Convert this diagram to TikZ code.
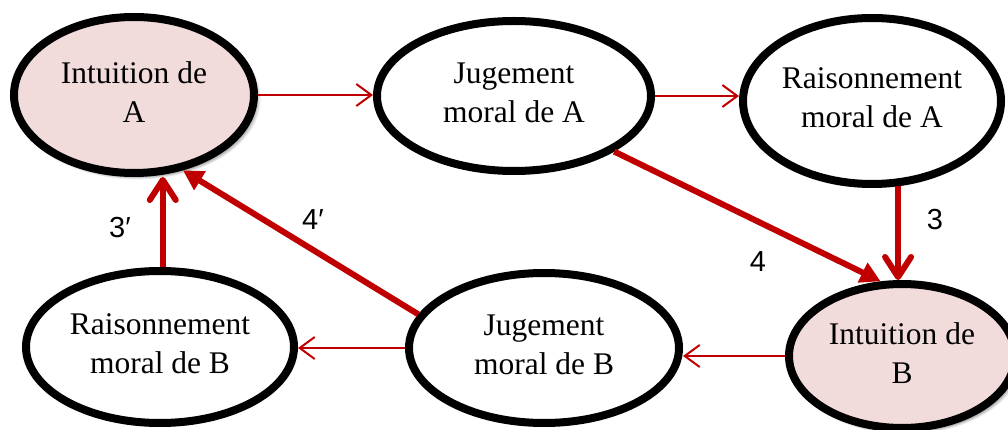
\documentclass[tikz,border=0pt]{standalone}
\usepackage{fontspec}
\setmainfont{Liberation Serif}
\newfontfamily\labelfont{Liberation Sans}
\usetikzlibrary{shapes.geometric,arrows.meta,shadows}
\definecolor{arrred}{HTML}{C00000}
\definecolor{pinkfill}{HTML}{F2DCDB}
\begin{document}
\begin{tikzpicture}[x=1pt,y=-1pt,
  every node/.style={inner sep=0pt},
  bubble/.style={ellipse,draw=black,line width=8pt,fill=white,align=center,
    text depth=6pt,font=\fontsize{31.5}{39}\selectfont},
  intu/.style={bubble,fill=pinkfill,
    general shadow={shadow xshift=3pt,shadow yshift=-4pt,shadow scale=1.03,opacity=0.07,fill=black},
    general shadow={shadow xshift=3pt,shadow yshift=-4pt,shadow scale=1.02,opacity=0.08,fill=black},
    general shadow={shadow xshift=3pt,shadow yshift=-4pt,shadow scale=1.01,opacity=0.09,fill=black},
    general shadow={shadow xshift=3pt,shadow yshift=-4pt,shadow scale=1.0,opacity=0.10,fill=black}},
  thin/.style={draw=arrred,line width=2pt,-{Straight Barb[length=15pt,width=22pt]}},
  thickbarb/.style={draw=arrred,line width=6pt,-{Straight Barb[length=20pt,width=26pt,round]}},
  thicktri/.style={draw=arrred,line width=6pt,-{Triangle[length=20pt,width=21pt]}},
  lbl/.style={font=\labelfont\fontsize{29}{30}\selectfont}]
\useasboundingbox (0,0) rectangle (1008,430);
\node[intu,minimum width=240pt,minimum height=156pt] (intA) at (134,95) {Intuition de\\A};
\node[bubble,minimum width=274pt,minimum height=150pt] (jugA) at (514,96) {Jugement\\moral de A};
\node[bubble,minimum width=258pt,minimum height=166pt] (raisA) at (872,101) {Raisonnement\\moral de A};
\node[bubble,minimum width=268pt,minimum height=152pt] (raisB) at (160,347) {Raisonnement\\moral de B};
\node[bubble,minimum width=270pt,minimum height=150pt] (jugB) at (544,348) {Jugement\\moral de B};
\node[intu,minimum width=226pt,minimum height=144pt] (intB) at (902,356) {Intuition de\\B};
% thin arrows
\draw[thin] (intA.east) -- (intA.east -| jugA.west);
\draw[thin] (jugA.east) -- (jugA.east -| raisA.west);
\draw[thin] (intB.west) -- (intB.west -| jugB.east);
\draw[thin] (jugB.west) -- (jugB.west -| raisB.east);
% thick arrows
\draw[thickbarb] (raisA.-73) -- (raisA.-73 |- intB.north);
\draw[thickbarb] (raisB.88) -- (raisB.88 |- intA.south);
\draw[thicktri] (jugA.-29) -- (intB.106);
\draw[thicktri] (jugB.165) -- (intA.-57);
% labels
\node[lbl] (l3) at (935,220) {3};
\node[lbl] (l4) at (758,262) {4};
\node[lbl] (l3p) at (120,228) {3′};
\node[lbl] (l4p) at (313,220) {4′};
\end{tikzpicture}
\end{document}
